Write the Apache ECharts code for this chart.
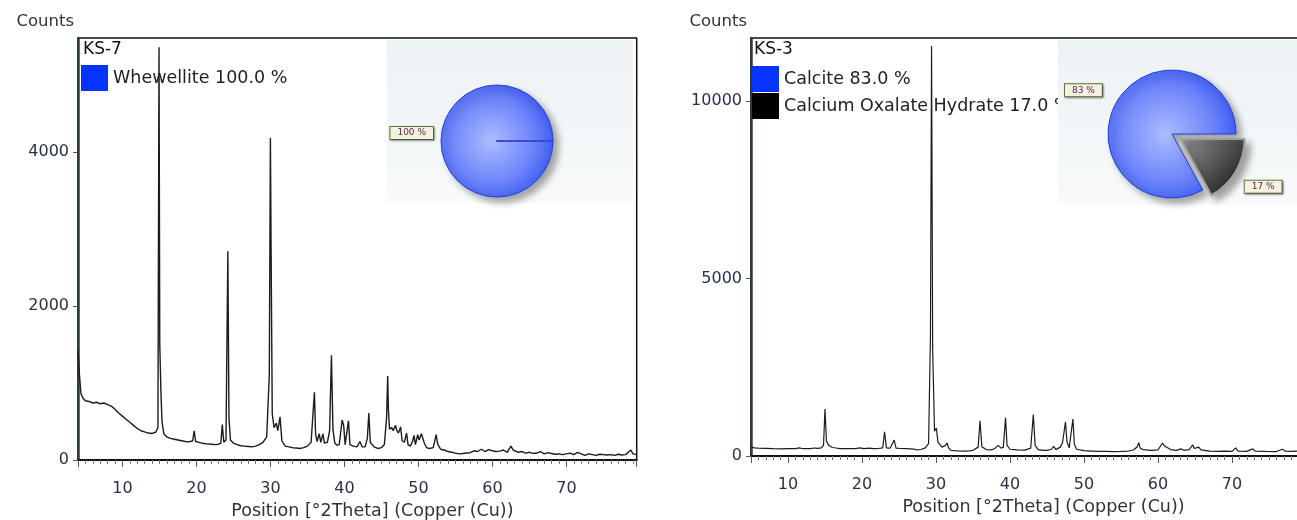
<!DOCTYPE html>
<html><head><meta charset="utf-8">
<script src="https://cdn.jsdelivr.net/npm/echarts@6/dist/echarts.min.js"></script>
<style>html,body{margin:0;padding:0;background:#fff}#c{width:1297px;height:520px}</style>
</head><body><div id="c"></div>
<script>
// KS-7 diffractogram: [2Theta, Counts]
const ks7Pattern = [
[4.0,1430],[4.2,1100],[4.4,860],[4.7,800],[5.0,770],[5.5,760],[6.0,740],[6.5,750],[7.0,730],[7.5,740],
[8.0,720],[8.5,700],[9.0,660],[9.5,610],[10.0,570],[10.5,530],[11.0,490],[11.5,450],[12.0,410],[12.5,380],
[13.0,365],[13.5,350],[14.0,345],[14.5,360],[14.8,420],[14.95,5360],[15.05,1500],[15.2,900],[15.35,500],[15.6,340],
[16.0,300],[16.5,280],[17.0,270],[17.5,260],[18.0,250],[18.5,240],[19.0,235],[19.5,250],[19.7,380],[19.9,240],
[20.5,225],[21.0,215],[21.5,210],[22.0,205],[22.5,200],[23.0,205],[23.3,220],[23.5,460],[23.7,230],[24.0,260],
[24.25,2710],[24.4,550],[24.6,260],[25.0,220],[25.5,200],[26.0,185],[26.5,180],[27.0,175],[27.5,170],[28.0,180],
[28.5,200],[29.0,230],[29.5,300],[29.85,1100],[30.0,4180],[30.1,2650],[30.25,600],[30.5,420],[30.8,480],[31.0,380],
[31.3,560],[31.55,250],[32.0,180],[32.5,170],[33.0,160],[33.5,155],[34.0,150],[34.5,160],[35.0,180],[35.5,230],
[35.95,880],[36.1,350],[36.3,240],[36.6,340],[36.8,230],[37.1,340],[37.3,220],[37.7,230],[38.0,380],[38.25,1360],
[38.45,400],[38.7,220],[39.0,190],[39.3,200],[39.7,520],[39.9,450],[40.1,200],[40.3,210],[40.55,510],[40.75,200],
[41.2,180],[41.7,170],[42.1,240],[42.4,170],[42.8,170],[43.1,280],[43.3,610],[43.5,230],[44.0,170],[44.5,150],
[45.0,160],[45.4,200],[45.7,550],[45.85,1090],[45.95,650],[46.1,400],[46.4,420],[46.6,380],[46.9,450],[47.1,380],
[47.3,350],[47.6,430],[47.8,250],[48.1,230],[48.4,350],[48.6,200],[48.9,180],[49.2,240],[49.4,320],[49.6,200],
[49.9,330],[50.1,260],[50.4,340],[50.6,360],[50.8,220],[51.1,160],[51.5,150],[52.0,160],[52.4,330],[52.6,210],
[53.0,140],[53.5,130],[54.0,110],[54.5,100],[55.0,90],[55.5,80],[56.0,85],[56.5,90],[57.0,95],[57.5,120],
[58.0,110],[58.5,140],[59.0,110],[59.5,135],[60.0,120],[60.5,110],[61.0,115],[61.5,130],[62.0,100],[62.5,180],
[62.8,130],[63.0,120],[63.5,100],[64.0,110],[64.5,90],[65.0,100],[65.5,85],[66.0,90],[66.5,110],[67.0,80],
[67.5,95],[68.0,85],[68.5,75],[69.0,80],[69.5,70],[70.0,80],[70.5,90],[71.0,70],[71.5,100],[72.0,80],
[72.5,60],[73.0,80],[73.5,70],[74.0,60],[74.5,75],[75.0,70],[75.5,65],[76.0,70],[76.5,60],[77.0,75],
[77.5,65],[78.0,70],[78.7,130],[79.0,80],[79.5,70]
];
// KS-3 diffractogram: [2Theta, Counts]
const ks3Pattern = [
[5.0,250],[5.5,230],[6.0,220],[7.0,215],[8.0,205],[9.0,200],[10.0,205],[11.0,210],[11.5,230],[12.0,205],
[13.0,210],[13.5,225],[14.0,215],[14.5,230],[14.8,300],[15.0,1320],[15.2,420],[15.5,300],[16.0,240],[16.5,225],
[17.0,210],[18.0,205],[19.0,210],[19.8,230],[20.2,210],[21.0,220],[21.5,210],[22.0,205],[22.8,230],[23.05,680],
[23.3,230],[23.8,220],[24.35,450],[24.6,220],[25.0,215],[26.0,205],[27.0,195],[27.5,170],[28.0,190],[28.5,220],
[29.0,350],[29.25,3400],[29.4,11550],[29.55,3000],[29.8,700],[30.05,790],[30.25,400],[30.8,250],[31.3,300],[31.5,370],
[31.7,230],[32.0,160],[32.5,150],[33.0,145],[34.0,140],[34.5,145],[35.0,160],[35.7,250],[35.95,995],[36.2,260],
[36.8,180],[37.5,170],[38.0,220],[38.4,300],[38.8,220],[39.1,250],[39.4,1080],[39.6,300],[40.0,190],[41.0,170],
[42.0,165],[42.8,220],[43.15,1170],[43.4,300],[43.8,180],[44.5,160],[45.0,160],[45.6,190],[45.9,270],[46.2,180],
[46.8,250],[47.1,380],[47.5,960],[47.7,400],[48.0,230],[48.5,1040],[48.7,330],[49.0,190],[50.0,150],[51.0,140],
[52.0,130],[53.0,130],[54.0,125],[55.0,130],[56.0,140],[56.7,170],[57.2,260],[57.4,375],[57.6,220],[58.0,180],
[59.0,160],[60.0,170],[60.6,365],[60.9,280],[61.3,230],[61.7,180],[62.5,160],[63.1,200],[63.5,160],[64.2,180],
[64.7,310],[64.9,210],[65.5,250],[65.8,170],[67.0,140],[68.0,130],[69.0,135],[70.0,130],[70.5,230],[70.8,140],
[72.0,130],[72.8,200],[73.1,140],[74.5,130],[76.0,125],[76.8,190],[77.2,140],[78.0,130],[78.8,135]
];
const ks7Phases = ['Whewellite'];
const ks7Percent = [100.0];
const ks3Phases = ['Calcite', 'Calcium Oxalate Hydrate'];
const ks3Percent = [83.0, 17.0];
const xTickStep = 10;
const ks7YStep = 2000, ks3YStep = 5000;
const ks7XRange = [4, 79.5], ks3XRange = [5, 80];
const ks7YMax = 5480, ks3YMax = 11775;

const FONT = 'DejaVu Sans';
const labelColor = '#2a3048';

function xAxis(gridIndex, range) {
  return {
    type: 'value', gridIndex, position: 'bottom', min: range[0], max: range[1],
    minInterval: xTickStep, maxInterval: xTickStep,
    name: 'Position [°2Theta] (Copper (Cu))', nameLocation: 'middle', nameGap: 42,
    nameTextStyle: { fontFamily: FONT, fontSize: 17.5, color: '#333', padding: [0, 0, 0, 30] },
    axisLine: { show: true, lineStyle: { color: '#111', width: 2 } },
    axisTick: { show: true, length: 7, lineStyle: { color: '#555' } },
    minorTick: { show: true, splitNumber: 10, length: 4, lineStyle: { color: '#777' } },
    axisLabel: { showMinLabel: false, showMaxLabel: false, margin: 21, fontFamily: FONT, fontSize: 16, color: labelColor,
      formatter: v => String(v) },
    splitLine: { show: false }, minorSplitLine: { show: false }
  };
}
function yAxis(gridIndex, max, step) {
  return {
    type: 'value', gridIndex, min: 0, max, interval: step,
    name: 'Counts', nameLocation: 'end', nameGap: 8,
    nameTextStyle: { fontFamily: FONT, fontSize: 16.5, color: '#333', align: 'right', padding: [0, 4, 0, 0] },
    axisLine: { show: true, lineStyle: { color: '#2a3b3b', width: 2.5 } },
    axisTick: { show: true, length: 5, lineStyle: { color: '#555' } },
    axisLabel: { showMaxLabel: false, margin: 9, fontFamily: FONT, fontSize: 16, color: labelColor,
      formatter: v => String(v) },
    splitLine: { show: false }
  };
}
const blueFill = { type: 'radial', x: 0.45, y: 0.5, r: 0.62,
  colorStops: [{ offset: 0, color: '#aebcff' }, { offset: 0.6, color: '#6c84fa' }, { offset: 1, color: '#3050f0' }] };
const darkFill = { type: 'linear', x: 0, y: 0, x2: 1, y2: 1,
  colorStops: [{ offset: 0, color: '#9a9a9a' }, { offset: 1, color: '#0c0c0c' }] };
const legendColors = { 'Whewellite': '#0633ff', 'Calcite': '#0633ff', 'Calcium Oxalate Hydrate': '#000000' };
const pieLabel = {
  show: true, position: 'outside', fontFamily: FONT, fontSize: 9, color: '#5b2c55',
  backgroundColor: '#f3f1df', borderColor: '#627a3c', borderWidth: 1, padding: [2, 7, 1, 7],
  shadowBlur: 2, shadowColor: 'rgba(0,0,0,0.35)', shadowOffsetX: 1, shadowOffsetY: 1,
  formatter: p => Math.round(p.value) + ' %'
};
const pieShadow = { shadowBlur: 7, shadowOffsetX: 5, shadowOffsetY: 5, shadowColor: 'rgba(0,0,0,0.35)' };

function legendFor(phases, pct, left, top) {
  return {
    orient: 'vertical', left, top, itemWidth: 27, itemHeight: 26, itemGap: 1, icon: 'rect',
    selectedMode: false, padding: 0,
    textStyle: { fontFamily: FONT, fontSize: 17.5, color: '#222', padding: [4, 0, 0, 0] },
    data: phases.map(n => ({ name: n, itemStyle: { color: legendColors[n], borderWidth: 0 } })),
    formatter: name => name + ' ' + pct[phases.indexOf(name)].toFixed(1) + ' %'
  };
}

const ks7PieData = ks7Phases.map((n, i) => ({ name: n, value: ks7Percent[i],
  itemStyle: Object.assign({ color: blueFill, borderColor: '#2240e0', borderWidth: 1 }, pieShadow) }));
ks7PieData.push({ name: ' ', value: 0, label: { show: false },
  itemStyle: { color: '#3a4bd0', borderColor: '#3a4bd0', borderWidth: 2 } });

const ks3PieData = [
  { name: ks3Phases[1], value: ks3Percent[1], selected: true,
    itemStyle: Object.assign({ color: darkFill, borderColor: '#a0a0a0', borderWidth: 2 }, pieShadow) },
  { name: ks3Phases[0], value: ks3Percent[0],
    itemStyle: Object.assign({ color: blueFill, borderColor: '#2240e0', borderWidth: 1 }, pieShadow) }
];

const panelFill = { type: 'linear', x: 0, y: 0, x2: 0, y2: 1,
  colorStops: [{ offset: 0, color: '#edf2f5' }, { offset: 1, color: '#f8fafb' }] };

const chart = echarts.init(document.getElementById('c'), null, { renderer: 'canvas' });
chart.setOption({
  animation: false,
  backgroundColor: '#fff',
  title: [
    { text: 'KS-7', left: 83, top: 41, textStyle: { fontFamily: FONT, fontSize: 17, fontWeight: 'normal', color: '#111' }, padding: 0 },
    { text: 'KS-3', left: 754, top: 41, textStyle: { fontFamily: FONT, fontSize: 17, fontWeight: 'normal', color: '#111' }, padding: 0 }
  ],
  legend: [legendFor(ks7Phases, ks7Percent, 81, 65), legendFor(ks3Phases, ks3Percent, 752, 66)],
  grid: [
    { left: 78, top: 38, width: 558.7, height: 422, show: true, borderColor: '#111', borderWidth: 1.5,
      backgroundColor: 'transparent', outerBoundsMode: 'none', containLabel: false },
    { left: 751, top: 38, width: 555, height: 418, show: true, borderColor: '#111', borderWidth: 1.5,
      backgroundColor: 'transparent', outerBoundsMode: 'none', containLabel: false }
  ],
  xAxis: [xAxis(0, ks7XRange), xAxis(1, ks3XRange)],
  yAxis: [yAxis(0, ks7YMax, ks7YStep), yAxis(1, ks3YMax, ks3YStep)],
  graphic: [
    { type: 'rect', z: 6, shape: { x: 387, y: 40, width: 246, height: 163 }, style: { fill: panelFill } },
    { type: 'rect', z: 6, shape: { x: 1058, y: 40, width: 239, height: 165 }, style: { fill: panelFill } }
  ],
  series: [
    { type: 'line', xAxisIndex: 0, yAxisIndex: 0, z: 5, symbol: 'none', silent: true,
      lineStyle: { color: '#1c1c1c', width: 1.4 }, data: ks7Pattern },
    { type: 'line', xAxisIndex: 1, yAxisIndex: 1, z: 5, symbol: 'none', silent: true,
      lineStyle: { color: '#1c1c1c', width: 1.2 }, data: ks3Pattern },
    { type: 'pie', z: 8, center: [497, 141], radius: 56, startAngle: 0, clockwise: true,
      avoidLabelOverlap: false, silent: true, label: pieLabel,
      labelLayout: { dy: -8 },
      labelLine: { show: false, length: 3, length2: 0 }, data: ks7PieData },
    { type: 'pie', z: 8, center: [1172, 134], radius: 64, startAngle: 0, clockwise: true,
      selectedMode: 'single', selectedOffset: 10, avoidLabelOverlap: false, silent: true, label: pieLabel,
      labelLayout: p => (p.dataIndex === 0 ? { dx: -8, dy: 8 } : { dx: 2, dy: -4 }),
      labelLine: { show: false, length: 14, length2: 0 }, data: ks3PieData }
  ]
});
</script></body></html>
